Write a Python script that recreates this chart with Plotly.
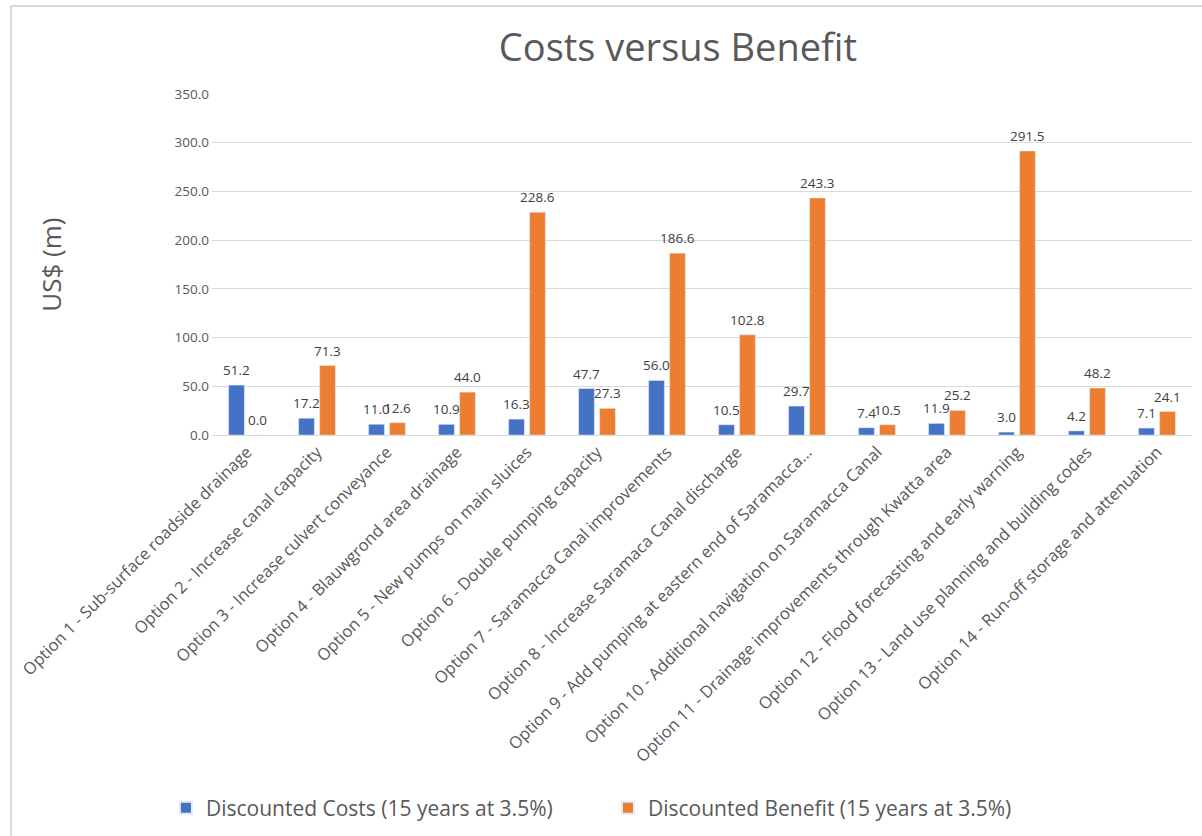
import plotly.graph_objects as go

categories = [
    "Option 1 - Sub-surface roadside drainage",
    "Option 2 - Increase canal capacity",
    "Option 3 - Increase culvert conveyance",
    "Option 4 - Blauwgrond area drainage",
    "Option 5 - New pumps on main sluices",
    "Option 6 - Double pumping capacity",
    "Option 7 - Saramacca Canal improvements",
    "Option 8 - Increase Saramaca Canal discharge",
    "Option 9 - Add pumping at eastern end of Saramacca...",
    "Option 10 - Additional navigation on Saramacca Canal",
    "Option 11 - Drainage improvements through Kwatta area",
    "Option 12 - Flood forecasting and early warning",
    "Option 13 - Land use planning and building codes",
    "Option 14 - Run-off storage and attenuation",
]
costs = [51.2, 17.2, 11.0, 10.9, 16.3, 47.7, 56.0, 10.5, 29.7, 7.4, 11.9, 3.0, 4.2, 7.1]
benefits = [0.0, 71.3, 12.6, 44.0, 228.6, 27.3, 186.6, 102.8, 243.3, 10.5, 25.2, 291.5, 48.2, 24.1]
series_names = ["Discounted Costs (15 years at 3.5%)", "Discounted Benefit (15 years at 3.5%)"]
y_ticks = [0, 50, 100, 150, 200, 250, 300, 350]

BLUE = "#4472C4"
ORANGE = "#ED7D31"
FONT = "Open Sans"
GREY = "#595959"

fig = go.Figure()
fig.add_trace(go.Bar(x=categories, y=costs, name=series_names[0], marker_color=BLUE))
fig.add_trace(go.Bar(x=categories, y=benefits, name=series_names[1], marker_color=ORANGE))

annotations = []
for vals, shift in ((costs, -10.3), (benefits, 10.3)):
    for c, v in zip(categories, vals):
        annotations.append(dict(
            x=c, y=v, xref="x", yref="y", text=f"{v:.1f}", showarrow=False,
            xshift=shift, yshift=15, yanchor="middle", xanchor="center",
            font=dict(family=FONT, size=13.5, color="#404040"),
        ))

annotations.append(dict(
    x=-0.165, y=0.5, xref="paper", yref="paper", text="US$ (m)", textangle=-90,
    showarrow=False, font=dict(family=FONT, size=26, color=GREY),
    xanchor="center", yanchor="middle",
))

fig.update_layout(
    width=1202, height=836,
    margin=dict(l=212, r=10, t=94, b=401, autoexpand=False),
    paper_bgcolor="white", plot_bgcolor="white",
    barmode="group", bargap=0.4, bargroupgap=0.25,
    title=dict(text="Costs versus Benefit", x=0.564, xanchor="center",
               y=1 - 48 / 836, yanchor="middle", xref="container", yref="container",
               font=dict(family=FONT, size=38, color=GREY)),
    xaxis=dict(tickangle=-45, tickfont=dict(family=FONT, size=16.5, color=GREY),
               showline=True, linecolor="#D9D9D9", linewidth=1, ticks="",
               automargin=False, showgrid=False),
    yaxis=dict(range=[0, 350], tickvals=y_ticks, tickformat=".1f",
               tickfont=dict(family=FONT, size=13.5, color=GREY),
               showgrid=True, gridcolor="#D9D9D9", gridwidth=1, zeroline=False,
               showline=False, automargin=False, ticks="", ticklabelstandoff=2),
    legend=dict(orientation="h", x=0.404, y=-1.094, xanchor="center", yanchor="middle",
                font=dict(family=FONT, size=21, color=GREY),
                entrywidth=397, entrywidthmode="pixels", itemsizing="constant"),
    annotations=annotations,
    shapes=[
        dict(type="line", xref="paper", yref="paper", x0=(11 - 212) / 980, x1=(1202 - 212) / 980,
             y0=(435 - 6) / 341, y1=(435 - 6) / 341, line=dict(color="#D9D9D9", width=2)),
        dict(type="line", xref="paper", yref="paper", x0=(11 - 212) / 980, x1=(11 - 212) / 980,
             y0=(435 - 6) / 341, y1=(435 - 836) / 341, line=dict(color="#D9D9D9", width=2)),
    ],
)

fig.write_html("out.html")
